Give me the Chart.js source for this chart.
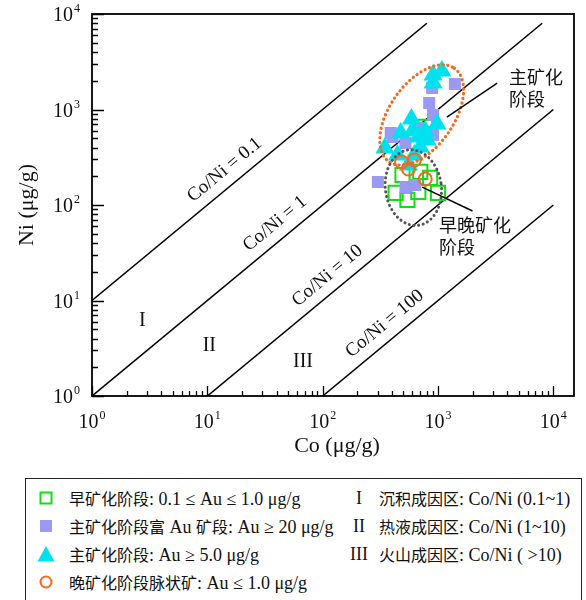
<!DOCTYPE html>
<html>
<head>
<meta charset="utf-8">
<script src="https://cdn.jsdelivr.net/npm/chart.js@4"></script>
<style>
  html, body { margin: 0; padding: 0; background: #fff; }
  body { width: 586px; height: 600px; position: relative; overflow: hidden;
         font-family: "Liberation Serif", "Noto Sans CJK SC", serif; color: #111; }
  #plot { position: absolute; left: 0; top: 0; }
  #legendBox { position: absolute; left: 25px; top: 478px; width: 557px; height: 140px;
               border: 1.5px solid #222; box-sizing: border-box; }
  .lg { position: absolute; font-size: 18px; line-height: 20px; white-space: nowrap; }
  .lg .cjk { font-family: "Noto Sans CJK SC", sans-serif; font-size: 16px; }
  .sym { position: absolute; }
  .num { text-align: center; width: 30px; }
</style>
</head>
<body>
<canvas id="plot" width="586" height="470"></canvas>
<div id="legendBox"></div>
<div id="legend"></div>

<script>
// ---- Co / Ni values (µg/g) for each sample group ----
const earlyCo = [492, 702, 854, 429, 543, 675, 1000, 774];
const earlyNi = [206, 222, 192, 134, 113, 137, 134, 660];

const richCo = [1400, 890, 838, 906, 389, 404, 522, 774, 906, 661, 301, 522, 636];
const richNi = [1850, 1680, 1170, 876, 567, 515, 446, 581, 541, 640, 174, 154, 162];

const mainCo = [906, 1080, 906, 588, 980, 474, 600, 774, 675, 805, 346, 446, 624, 702, 554];
const mainNi = [2300, 2530, 1900, 795, 705, 567, 595, 595, 515, 480, 395, 334, 334, 405, 262];

const lateCo = [483, 624, 554, 774];
const lateNi = [282, 296, 238, 187];

// Co/Ni reference ratios and their labels
const coNiRatios = [0.1, 1, 10, 100];
const ratioLabels = ['Co/Ni = 0.1', 'Co/Ni = 1', 'Co/Ni = 10', 'Co/Ni = 100'];

// genetic field labels
const fieldLabels = ['I', 'II', 'III'];

// decade tick values on both log axes
const decadeTicks = [1, 10, 100, 1000, 10000];

// legend entries
const legendLeft = [
  '早矿化阶段: 0.1 ≤ Au ≤ 1.0 μg/g',
  '主矿化阶段富 Au 矿段: Au ≥ 20 μg/g',
  '主矿化阶段: Au ≥ 5.0 μg/g',
  '晚矿化阶段脉状矿: Au ≤ 1.0 μg/g'
];
const legendRight = [
  '沉积成因区: Co/Ni (0.1~1)',
  '热液成因区: Co/Ni (1~10)',
  '火山成因区: Co/Ni ( >10)'
];

// ---- styling / layout constants ----
const X_MAX = 15100;
const NI_LINE_TOP = 8000;
const COL_GREEN = '#14dc14';
const COL_PURPLE = '#9a9af2';
const COL_CYAN = '#00e1f0';
const COL_ORANGE = '#f26a1f';
const SERIF = '"Liberation Serif", serif';
const CJK = '"Noto Sans CJK SC", sans-serif';

const toPts = (xs, ys) => xs.map((x, i) => ({ x: x, y: ys[i] }));

// each reference line runs from Ni = 1 (or Co = 1) up to the plot's upper bound
const ratioLine = r => [
  { x: Math.max(1, r), y: Math.max(1, r) / r },
  { x: Math.min(10000, NI_LINE_TOP * r), y: Math.min(10000, NI_LINE_TOP * r) / r }
];

const datasets = [];
coNiRatios.forEach((r, i) => {
  datasets.push({
    label: ratioLabels[i], data: ratioLine(r), showLine: true,
    borderColor: '#000', borderWidth: 1.6, pointRadius: 0, order: 10
  });
});
datasets.push({
  label: 'early', data: toPts(earlyCo, earlyNi), pointStyle: 'rect', pointRadius: 10,
  backgroundColor: 'rgba(255,255,255,0)', borderColor: COL_GREEN, borderWidth: 2, order: 5
});
datasets.push({
  label: 'rich', data: toPts(richCo, richNi), pointStyle: 'rect', pointRadius: 8.5,
  backgroundColor: COL_PURPLE, borderColor: COL_PURPLE, borderWidth: 0, order: 4
});
datasets.push({
  label: 'main', data: toPts(mainCo, mainNi), pointStyle: 'triangle', pointRadius: 11,
  backgroundColor: COL_CYAN, borderColor: COL_CYAN, borderWidth: 0, order: 3
});
datasets.push({
  label: 'late', data: toPts(lateCo, lateNi), pointStyle: 'circle', pointRadius: 6.5,
  backgroundColor: 'rgba(255,255,255,0)', borderColor: COL_ORANGE, borderWidth: 2, order: 2
});

// annotation geometry (data coordinates + pixel sizes)
const ratioLabelFoot = [17.3, 47.3, 135, 424];   // Co where each label sits on its line
const fieldLabelPos = [[2.73, 6.1], [10.4, 3.34], [67.5, 2.27]];
const stageEllipses = [
  { co: 722, ni: 876, rx: 57, ry: 32, rot: -55, color: COL_ORANGE, width: 3.2 },
  { co: 611, ni: 152, rx: 28, ry: 38, rot: -7.5, color: '#555', width: 3 }
];
const stageNotes = [
  { lines: ['主矿化', '阶段'], co: 4125, ni: 2190, from: [1194, 834], to: [3258, 1893] },
  { lines: ['早晚矿化', '阶段'], co: 1020, ni: 61.8, from: [730, 154], to: [1991, 86.5] }
];

function drawPow10(ctx, exp, x, y, align) {
  ctx.font = '20px ' + SERIF;
  const wBase = ctx.measureText('10').width;
  ctx.font = '12px ' + SERIF;
  const wExp = ctx.measureText(String(exp)).width;
  const total = wBase + 1 + wExp;
  const start = align === 'center' ? x - total / 2 : x - total;
  ctx.textAlign = 'left';
  ctx.textBaseline = 'alphabetic';
  ctx.font = '20px ' + SERIF;
  ctx.fillText('10', start, y);
  ctx.font = '12px ' + SERIF;
  ctx.fillText(String(exp), start + wBase + 1, y - 9);
}

const decor = {
  id: 'decor',
  afterDatasetsDraw(chart) {
    const ctx = chart.ctx, xs = chart.scales.x, ys = chart.scales.y;
    const a = chart.chartArea;
    ctx.save();

    // dotted stage envelopes
    stageEllipses.forEach(e => {
      ctx.save();
      ctx.beginPath();
      ctx.ellipse(xs.getPixelForValue(e.co), ys.getPixelForValue(e.ni), e.rx, e.ry, e.rot * Math.PI / 180, 0, Math.PI * 2);
      ctx.setLineDash([0.1, 4.6]);
      ctx.lineCap = 'round';
      ctx.lineWidth = e.width;
      ctx.strokeStyle = e.color;
      ctx.stroke();
      ctx.restore();
    });

    // stage notes with leader lines
    ctx.strokeStyle = '#000';
    ctx.lineWidth = 1.5;
    ctx.fillStyle = '#111';
    stageNotes.forEach(n => {
      ctx.beginPath();
      ctx.moveTo(xs.getPixelForValue(n.from[0]), ys.getPixelForValue(n.from[1]));
      ctx.lineTo(xs.getPixelForValue(n.to[0]), ys.getPixelForValue(n.to[1]));
      ctx.stroke();
      ctx.font = '18px ' + CJK;
      ctx.textAlign = 'left';
      ctx.textBaseline = 'middle';
      const x0 = xs.getPixelForValue(n.co), y0 = ys.getPixelForValue(n.ni);
      n.lines.forEach((t, k) => ctx.fillText(t, x0, y0 + k * 22));
    });

    // labels along the Co/Ni lines
    ctx.font = '19px ' + SERIF;
    ctx.textAlign = 'center';
    ctx.textBaseline = 'middle';
    coNiRatios.forEach((r, i) => {
      const co = ratioLabelFoot[i];
      const x1 = xs.getPixelForValue(co), y1 = ys.getPixelForValue(co / r);
      const x2 = xs.getPixelForValue(co * 10), y2 = ys.getPixelForValue(co * 10 / r);
      const ang = Math.atan2(y2 - y1, x2 - x1);
      ctx.save();
      ctx.translate(x1, y1);
      ctx.rotate(ang);
      ctx.fillText(ratioLabels[i], 0, -16);
      ctx.restore();
    });

    // genetic field numerals
    ctx.font = '20px ' + SERIF;
    fieldLabels.forEach((t, i) => {
      ctx.fillText(t, xs.getPixelForValue(fieldLabelPos[i][0]), ys.getPixelForValue(fieldLabelPos[i][1]));
    });

    // frame
    ctx.strokeStyle = '#000';
    ctx.lineWidth = 1.8;
    ctx.strokeRect(a.left, a.top, a.right - a.left, a.bottom - a.top);

    // inward ticks
    ctx.lineWidth = 1.3;
    ctx.beginPath();
    decadeTicks.forEach(d => {
      for (let m = 1; m <= 9; m++) {
        const v = d * m;
        const major = m === 1;
        if (v <= 10000) {
          const y = Math.round(ys.getPixelForValue(v)) + 0.5;
          ctx.moveTo(a.left, y);
          ctx.lineTo(a.left + (major ? 12 : 6), y);
        }
        if (v <= X_MAX) {
          const x = Math.round(xs.getPixelForValue(v)) + 0.5;
          ctx.moveTo(x, a.bottom);
          ctx.lineTo(x, a.bottom - (major ? 10 : 5));
        }
      }
    });
    ctx.stroke();

    // tick labels
    ctx.fillStyle = '#111';
    decadeTicks.forEach(v => {
      const e = Math.round(Math.log10(v));
      drawPow10(ctx, e, xs.getPixelForValue(v), a.bottom + 32, 'center');
      drawPow10(ctx, e, a.left - 12, ys.getPixelForValue(v) + 7, 'right');
    });

    // axis titles
    ctx.font = '22px ' + SERIF;
    ctx.textAlign = 'center';
    ctx.textBaseline = 'middle';
    ctx.fillText('Co (μg/g)', 337, 446);
    ctx.save();
    ctx.translate(27, (a.top + a.bottom) / 2);
    ctx.rotate(-Math.PI / 2);
    ctx.fillText('Ni (μg/g)', 0, 0);
    ctx.restore();

    ctx.restore();
  }
};

new Chart(document.getElementById('plot'), {
  type: 'scatter',
  data: { datasets: datasets },
  options: {
    responsive: false,
    animation: false,
    events: [],
    layout: { padding: { top: 14, right: 3, left: 0, bottom: 0 } },
    plugins: { legend: { display: false }, tooltip: { enabled: false } },
    scales: {
      x: {
        type: 'logarithmic', min: 1, max: X_MAX,
        grid: { display: false }, border: { display: false }, ticks: { display: false },
        afterFit(s) { s.height = 74; }
      },
      y: {
        type: 'logarithmic', min: 1, max: 10000,
        grid: { display: false }, border: { display: false }, ticks: { display: false },
        afterFit(s) { s.width = 92; }
      }
    }
  },
  plugins: [decor]
});

// ---- legend ----
// split a label into CJK and Latin runs so each uses its own face and size
function fillMixed(el, text) {
  const re = /([\u3400-\u9fff]+)/;
  text.split(re).forEach(part => {
    if (!part) return;
    if (re.test(part)) {
      const s = document.createElement('span');
      s.className = 'cjk';
      s.textContent = part;
      el.appendChild(s);
    } else {
      el.appendChild(document.createTextNode(part));
    }
  });
}

const legend = document.getElementById('legend');
const symbols = [
  '<svg width="16" height="16"><rect x="2.5" y="2.5" width="11" height="11" fill="none" stroke="' + COL_GREEN + '" stroke-width="2"/></svg>',
  '<svg width="16" height="16"><rect x="2" y="2" width="12" height="12" fill="' + COL_PURPLE + '"/></svg>',
  '<svg width="20" height="18"><polygon points="10,1 18.5,16.5 1.5,16.5" fill="' + COL_CYAN + '"/></svg>',
  '<svg width="16" height="16"><circle cx="8" cy="8" r="5.5" fill="none" stroke="' + COL_ORANGE + '" stroke-width="2"/></svg>'
];
const rowY = [498, 526, 554, 582];
legendLeft.forEach((t, i) => {
  const s = document.createElement('div');
  s.className = 'sym';
  s.innerHTML = symbols[i];
  const w = i === 2 ? 20 : 16, h = i === 2 ? 18 : 16;
  s.style.left = (45.5 - w / 2) + 'px';
  s.style.top = (rowY[i] - h / 2) + 'px';
  s.style.width = w + 'px'; s.style.height = h + 'px';
  legend.appendChild(s);
  const d = document.createElement('div');
  d.className = 'lg';
  fillMixed(d, t);
  d.style.left = '69px';
  d.style.top = (rowY[i] - 10) + 'px';
  legend.appendChild(d);
});
legendRight.forEach((t, i) => {
  const n = document.createElement('div');
  n.className = 'lg num';
  n.textContent = fieldLabels[i];
  n.style.left = '344px';
  n.style.top = (rowY[i] - 10) + 'px';
  legend.appendChild(n);
  const d = document.createElement('div');
  d.className = 'lg';
  fillMixed(d, t);
  d.style.left = '379px';
  d.style.top = (rowY[i] - 10) + 'px';
  legend.appendChild(d);
});
</script>
</body>
</html>
